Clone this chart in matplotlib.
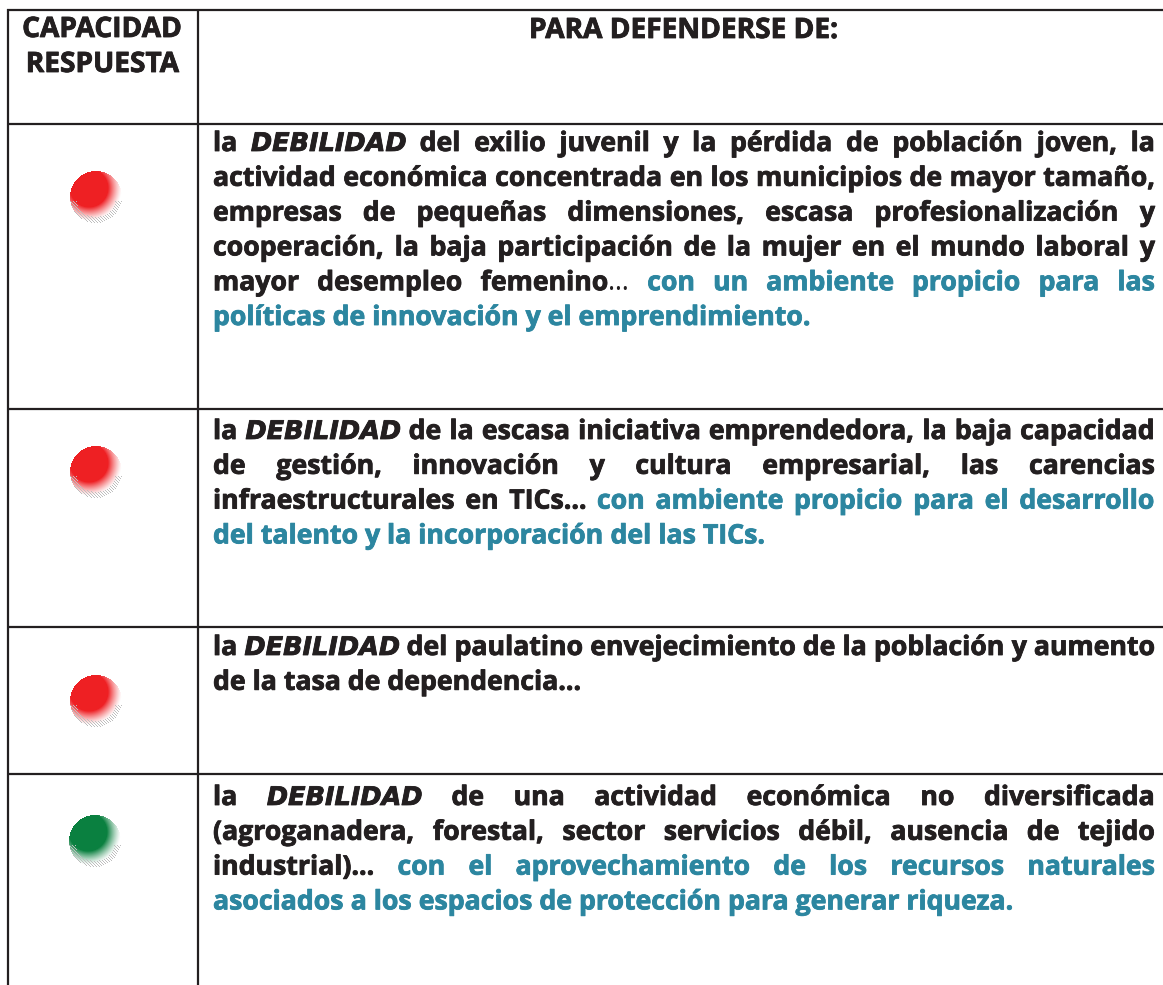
import matplotlib
matplotlib.use('Agg')
import matplotlib.pyplot as plt
import matplotlib.patheffects as pe
import numpy as np

# table text, one list per row, "*" marks the teal part of a line
header_left = ["CAPACIDAD", "RESPUESTA"]
header_right = "PARA DEFENDERSE DE:"
row1_lines = ["la DEBILIDAD del exilio juvenil y la pérdida de población joven, la",
              "actividad económica concentrada en los municipios de mayor tamaño,",
              "empresas de pequeñas dimensiones, escasa profesionalización y",
              "cooperación, la baja participación de la mujer en el mundo laboral y",
              "mayor desempleo femenino|… *con un ambiente propicio para las",
              "*políticas de innovación y el emprendimiento."]
row2_lines = ["la DEBILIDAD de la escasa iniciativa emprendedora, la baja capacidad",
              "de gestión, innovación y cultura empresarial, las carencias",
              "infraestructurales en TICs… *con ambiente propicio para el desarrollo",
              "*del talento y la incorporación del las TICs."]
row3_lines = ["la DEBILIDAD del paulatino envejecimiento de la población y aumento",
              "de la tasa de dependencia…"]
row4_lines = ["la DEBILIDAD de una actividad económica no diversificada",
              "(agroganadera, forestal, sector servicios débil, ausencia de tejido",
              "industrial)… *con el aprovechamiento de los recursos naturales",
              "*asociados a los espacios de protección para generar riqueza."]
rows = [row1_lines, row2_lines, row3_lines, row4_lines]
row_baselines = [151, 439, 655, 805]
dot_colors = ['#ee2024', '#ee2024', '#ee2024', '#0b8040']
dot_centers = [(96, 197), (96, 472), (96, 701), (95, 841)]
h_lines = [10, 124, 409, 627, 774]
v_lines = [8, 198]

DARK = '#231f20'
TEAL = '#2c86a0'
FONT = 'Open Sans'
SIZE = 19.2
HEAD_SIZE = 20.2
STROKE = 0.6
LINE_H = 34.8
X0, X1 = 213, 1155

W, H = 1163, 985
fig = plt.figure(figsize=(W / 100, H / 100), dpi=100)
ax = fig.add_axes([0, 0, 1, 1])
ax.set_xlim(0, W)
ax.set_ylim(H, 0)
ax.axis('off')

for y in h_lines:
    ax.plot([v_lines[0] - 1, W], [y, y], color=DARK, lw=1.6, solid_capstyle='butt')
for x in v_lines:
    ax.plot([x, x], [h_lines[0] - 1, H], color=DARK, lw=1.6, solid_capstyle='butt')

renderer = fig.canvas.get_renderer()


def make_dot(color, n=52):
    # shaded ball: solid disc upper left, soft fade to lower right, speckled rim
    rgb = np.array(matplotlib.colors.to_rgb(color))
    yy, xx = np.mgrid[0:n, 0:n] + 0.5
    c = n / 2
    dist = np.hypot(xx - c, yy - c)
    outer = dist <= c
    solid = np.hypot(xx - c + 7, yy - c + 9)
    fade = np.clip((33 - solid) / 14, 0, 1) ** 1.3
    img = np.ones((n, n, 4))
    for i in range(3):
        img[..., i] = 1 - (1 - rgb[i]) * fade
    rim = outer & (dist > c - 6) & (yy > c + 4)
    speck = ((xx.astype(int) * 2 + yy.astype(int)) % 3 == 0) & rim
    for i in range(3):
        img[..., i] = np.where(speck, 0.75, img[..., i])
        img[..., i] = np.where(~outer, 1.0, img[..., i])
    return img


for color, (cx, cy) in zip(dot_colors, dot_centers):
    ax.imshow(make_dot(color), extent=(cx - 26, cx + 26, cy + 26, cy - 26),
              interpolation='bilinear', zorder=3)
ax.set_xlim(0, W)
ax.set_ylim(H, 0)


def word_kw(word, color, weight='bold'):
    if word == 'DEBILIDAD':
        return dict(color=color, fontsize=18.4, family='DejaVu Sans', weight='bold',
                    style='italic', va='baseline')
    return dict(color=color, fontsize=SIZE, family=FONT, weight=weight, va='baseline')


def width(word, **kw):
    t = ax.text(0, 0, word, **kw)
    w = t.get_window_extent(renderer).width
    t.remove()
    return w


def draw_word(x, y, word, **kw):
    t = ax.text(x, y, word, **kw)
    if kw['weight'] == 'bold':
        t.set_path_effects([pe.withStroke(linewidth=STROKE, foreground=kw['color'])])


def draw_line(line, y, justify):
    # split into words, keep colour per word, spread them over the cell width
    words = []
    color = DARK
    for w in line.split(' '):
        if w.startswith('*'):
            color = TEAL
            w = w[1:]
        words.append((w, color))
    sizes = []
    for w, c in words:
        sizes.append(sum(width(p, **word_kw(p, c, 'bold' if i == 0 else 'normal'))
                         for i, p in enumerate(w.split('|'))))
    space = width('a a', **word_kw('a', DARK)) - width('aa', **word_kw('a', DARK))
    if justify:
        space = (X1 - X0 - sum(sizes)) / (len(words) - 1)
    x = X0
    for (w, c), s in zip(words, sizes):
        px = x
        for i, p in enumerate(w.split('|')):
            kw = word_kw(p, c, 'bold' if i == 0 else 'normal')
            draw_word(px, y, p, **kw)
            px += width(p, **kw)
        x += s + space


for lines, base in zip(rows, row_baselines):
    for i, line in enumerate(lines):
        draw_line(line, base + i * LINE_H, i < len(lines) - 1)

for i, s in enumerate(header_left):
    t = ax.text(102, 37 + i * 35, s, ha='center', va='baseline', color=DARK,
                fontsize=HEAD_SIZE, family=FONT, weight='bold')
    t.set_path_effects([pe.withStroke(linewidth=STROKE, foreground=DARK)])
t = ax.text(683, 38, header_right, ha='center', va='baseline', color=DARK,
            fontsize=HEAD_SIZE, family=FONT, weight='bold')
t.set_path_effects([pe.withStroke(linewidth=STROKE, foreground=DARK)])

fig.savefig('out.png', dpi=100)
